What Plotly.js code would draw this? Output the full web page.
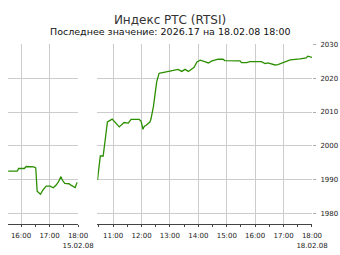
<!DOCTYPE html>
<html>
<head>
<meta charset="utf-8">
<script src="https://cdn.plot.ly/plotly-3.0.1.min.js"></script>
<style>html,body{margin:0;padding:0;background:#fff;}#chart{width:340px;height:255px;}</style>
</head>
<body>
<div id="chart"></div>
<script>
// Day 1: 15.02.08
const day1Date = '2008-02-15';
const day1Times = ['15:33','15:52','15:55','16:07','16:11','16:27','16:31','16:34','16:37','16:41','16:46','16:53','17:01','17:06','17:08','17:14','17:19','17:24','17:27','17:32','17:41','17:45','17:54','17:58'];
const day1Values = [1992.5,1992.5,1993.3,1993.3,1993.9,1993.8,1993.5,1986.6,1986.2,1985.7,1986.9,1988.1,1988.1,1987.7,1987.6,1988.4,1989.4,1990.9,1989.9,1988.9,1988.8,1988.4,1987.7,1989.2];

// Day 2: 18.02.08
const day2Date = '2008-02-18';
const day2Times = ['10:27','10:33','10:39','10:43','10:48','10:58','11:04','11:13','11:23','11:32','11:38','11:55','11:59','12:03','12:06','12:10','12:18','12:20','12:25','12:28','12:32','12:37','12:39','13:00','13:17','13:25','13:32','13:39','13:47','13:51','13:57','14:04','14:15','14:21','14:29','14:42','14:52','14:56','15:28','15:31','15:42','15:49','16:13','16:21','16:27','16:35','16:42','16:48','16:56','17:07','17:14','17:35','17:48','17:51','17:56','18:00'];
const day2Values = [1989.9,1997.0,1997.0,2001.7,2007.1,2007.9,2007.0,2005.6,2006.9,2006.7,2007.8,2007.8,2007.3,2004.9,2005.8,2006.1,2007.1,2008.0,2011.5,2015.5,2018.9,2021.4,2021.5,2022.1,2022.6,2022.0,2022.6,2022.0,2022.8,2023.2,2024.8,2025.3,2024.8,2024.5,2025.1,2025.6,2025.6,2025.2,2025.1,2024.6,2024.6,2024.9,2024.9,2024.3,2024.5,2024.2,2023.9,2024.0,2024.5,2025.1,2025.4,2025.7,2026.0,2026.5,2026.3,2026.17];

// Tick labels
const day1TickTimes = ['16:00','17:00','18:00'];
const day1TickText = ['16:00','17:00','18:00<br>15.02.08'];
const day2TickTimes = ['11:00','12:00','13:00','14:00','15:00','16:00','17:00','18:00'];
const day2TickText = ['11:00','12:00','13:00','14:00','15:00','16:00','17:00','18:00<br>18.02.08'];
const yTickVals = [1980,1990,2000,2010,2020,2030];

const titleText = 'Индекс РТС (RTSI)';
const subtitleText = 'Последнее значение: 2026.17 на 18.02.08 18:00';

const stamp = (d, t) => d + ' ' + t;
const x1 = day1Times.map(t => stamp(day1Date, t));
const x2 = day2Times.map(t => stamp(day2Date, t));

const lineColor = '#2b8f00';
const gridColor = '#cccccc';
const axisColor = '#444444';
const tickFont = {family: 'DejaVu Sans', size: 7, color: '#222'};

const day1Range = [stamp(day1Date,'15:32:36'), stamp(day1Date,'18:00')];
const day2Range = [stamp(day2Date,'10:26:50'), stamp(day2Date,'18:00')];
const d1 = [0, 0.2303];
const d2 = [0.2941, 1];

function mainAxis(domain, range, date, ticks, text) {
  return {
    type: 'date', domain: domain, range: range, anchor: 'y',
    tickmode: 'array', tickvals: ticks.map(t => stamp(date, t)), ticktext: text,
    showgrid: true, gridcolor: gridColor, gridwidth: 1,
    showline: true, linecolor: axisColor, linewidth: 1,
    ticks: 'outside', ticklen: 2, tickwidth: 1, tickcolor: axisColor,
    minor: {tickmode: 'linear', tick0: stamp(date, '10:00'), dtick: 1800000, ticks: 'outside', ticklen: 2, tickwidth: 1, tickcolor: axisColor, showgrid: false},
    tickfont: tickFont, ticklabelstandoff: 3, zeroline: false, fixedrange: true
  };
}
function insideAxis(over, domain, range, date, ticks) {
  return {
    type: 'date', overlaying: over, domain: domain, range: range, anchor: 'y', side: 'bottom',
    tickmode: 'array', tickvals: ticks.map(t => stamp(date, t)), ticktext: ticks.map(() => ''),
    showgrid: false, showline: false, showticklabels: false,
    ticks: 'inside', ticklen: 2, tickwidth: 1, tickcolor: axisColor,
    minor: {tickmode: 'linear', tick0: stamp(date, '10:00'), dtick: 1800000, ticks: 'inside', ticklen: 2, tickwidth: 1, tickcolor: axisColor, showgrid: false},
    zeroline: false, fixedrange: true
  };
}

const traces = [
  {x: x1, y: day1Values, xaxis: 'x', yaxis: 'y', type: 'scatter', mode: 'lines', line: {color: lineColor, width: 1.3}, hoverinfo: 'skip'},
  {x: x2, y: day2Values, xaxis: 'x2', yaxis: 'y', type: 'scatter', mode: 'lines', line: {color: lineColor, width: 1.3}, hoverinfo: 'skip'}
];

const layout = {
  width: 340, height: 255,
  margin: {l: 8, r: 28, t: 44, b: 31, pad: 0},
  paper_bgcolor: '#ffffff', plot_bgcolor: 'rgba(0,0,0,0)',
  showlegend: false,
  title: {text: titleText, font: {family: 'DejaVu Sans', size: 12, color: '#333'}, x: 0.5, xref: 'container', xanchor: 'center', y: 0.9235, yref: 'container', yanchor: 'middle'},
  annotations: [{text: subtitleText, xref: 'paper', yref: 'paper', x: 0.5355, y: 1.0667, xanchor: 'center', yanchor: 'middle', showarrow: false, font: {family: 'DejaVu Sans', size: 9.5, color: '#111'}}],
  xaxis: mainAxis(d1, day1Range, day1Date, day1TickTimes, day1TickText),
  xaxis2: mainAxis(d2, day2Range, day2Date, day2TickTimes, day2TickText),
  xaxis3: insideAxis('x', d1, day1Range, day1Date, day1TickTimes),
  xaxis4: insideAxis('x2', d2, day2Range, day2Date, day2TickTimes),
  xaxis5: {domain: [0, 1], anchor: 'y', visible: false, fixedrange: true},
  yaxis: {
    anchor: 'x2', side: 'right', range: [1976.9, 2030.1],
    tickmode: 'array', tickvals: yTickVals,
    showgrid: true, gridcolor: gridColor, gridwidth: 1,
    showline: false, zeroline: false,
    ticks: 'outside', ticklen: 3, tickcolor: '#aaaaaa', tickwidth: 1,
    tickfont: tickFont, ticklabelstandoff: 3, fixedrange: true
  }
};

Plotly.newPlot('chart', traces, layout, {staticPlot: true, displayModeBar: false});
</script>
</body>
</html>
